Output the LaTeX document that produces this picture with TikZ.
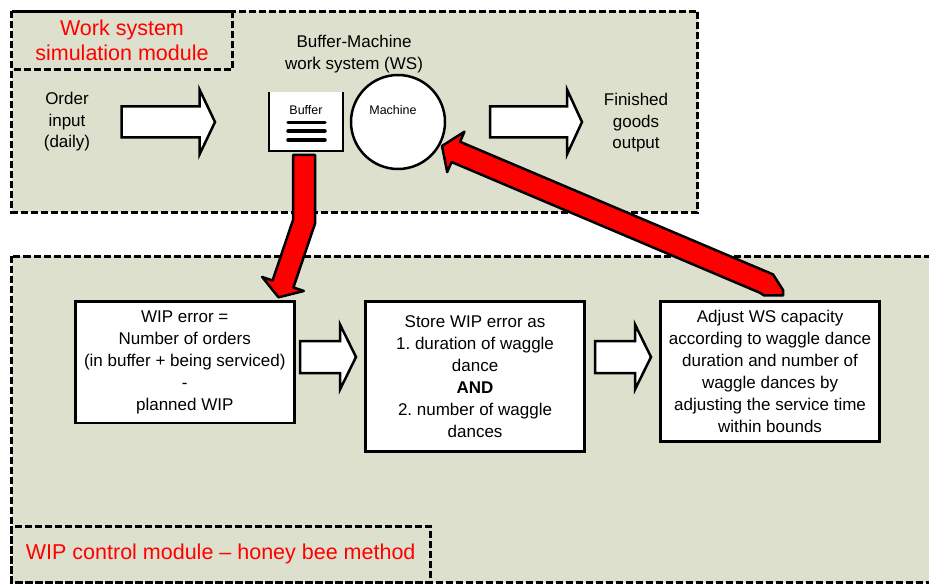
\documentclass[tikz,border=0pt]{standalone}
\usepackage{fontspec}
\setmainfont{Liberation Sans}
\frenchspacing
\definecolor{panel}{RGB}{221,224,204}
\tikzset{
 panelbox/.style={fill=panel, draw=black, line width=3pt, dash pattern=on 7pt off 3pt},
 titlebox/.style={draw=black, line width=3pt, dash pattern=on 7pt off 3pt},
 procbox/.style={draw=black, fill=white, line width=2.5pt, align=center, inner sep=0pt,
   font=\fontsize{17}{22}\selectfont, anchor=north west},
 txt/.style={align=center, font=\fontsize{17}{21.6}\selectfont, inner sep=0pt},
 smalltxt/.style={font=\fontsize{12.5}{14}\selectfont, inner sep=0pt},
 redtitle/.style={text=red, font=\fontsize{21.5}{25}\selectfont, align=center, inner sep=0pt},
 blockarrow/.style={draw=black, fill=white, line width=2.5pt, line join=miter},
 redarrow/.style={draw=black, fill=red, line width=2.5pt, line join=round},
}
\newcommand\blockarr[5]{%
 \draw[blockarrow] (#1,#4-#5) -- (#2,#4-#5) -- (#2,#4-32.5) -- (#3,#4) -- (#2,#4+32.5)
   -- (#2,#4+#5) -- (#1,#4+#5) -- cycle;}
\begin{document}
\begin{tikzpicture}[x=1pt,y=-1pt]
\useasboundingbox (0,0) rectangle (929,585);
\clip (0,0) rectangle (929,585);
% panels
\draw[panelbox] (11.5,11.5) rectangle (697.5,212.5);
\draw[panelbox] (11.5,256.5) rectangle (945,582.5);
\draw[titlebox] (11.5,11.5) rectangle (232.5,69.5);
\draw[titlebox] (11.5,526) rectangle (430,582.5);
% titles
\node[redtitle] (t1) at (122,40) {Work system\\simulation module};
\node[redtitle] (t2) at (220.7,554) {WIP control module – honey bee method};
% top texts
\node[txt] (ws) at (354,54) {Buffer-Machine\\work system (WS)};
\node[txt] (oin) at (67,122) {Order\\input\\(daily)};
\node[txt] (fout) at (636,123) {Finished\\goods\\output};
% buffer
\node[fill=white, minimum width=74pt, minimum height=59pt, inner sep=0pt] (buf) at (306,121.5) {};
\draw[line width=2.5pt] (buf.north west) -- (buf.south west) -- (buf.south east) -- (buf.north east);
\node[smalltxt] (buflbl) at (306,110) {Buffer};
\draw[line width=3.5pt, line cap=round] (288,122.3) -- (325,122.3);
\draw[line width=3.5pt, line cap=round] (288,131) -- (325,131);
\draw[line width=3.5pt, line cap=round] (288,140) -- (325,140);
% machine
\node[circle, draw, fill=white, line width=2.5pt, minimum size=94pt, inner sep=0pt] (mach) at (398,122) {};
\node[smalltxt] (machlbl) at (393,110) {Machine};
% process boxes
\node[procbox, minimum width=219pt, minimum height=121pt] (b1) at (74,300.5)
  {WIP error =\\Number of orders\\(in buffer + being serviced)\\-\\planned WIP};
\node[procbox, minimum width=219pt, minimum height=149.5pt] (b2) at (364.3,300.5)
  {Store WIP error as\\1. duration of waggle\\dance\\\textbf{AND}\\2. number of waggle\\dances};
\node[procbox, minimum width=219pt, minimum height=139.5pt] (b3) at (659.3,300.5)
  {Adjust WS capacity\\according to waggle dance\\duration and number of\\waggle dances by\\adjusting the service time\\within bounds};
% block arrows
\blockarr{121.5}{199.5}{215}{122}{15.5}
\blockarr{490}{567}{582}{122}{15.5}
\blockarr{300}{340}{356}{357}{16}
\blockarr{595}{635}{651}{357}{16}
% red arrows
\draw[redarrow] (293,155) -- (315,155) -- (315,223.6) -- (293.4,287.5) -- (303.8,291)
  -- (278.5,297.3) -- (262.2,277) -- (272.6,280.5) -- (293,220) -- cycle;
\draw[redarrow] (442,146) -- (464.4,131.7) -- (460.1,141.8) -- (773,274.4) -- (783,290)
  -- (783,295.5) -- (764,295.5) -- (760,292.8) -- (451.5,162) -- (447.2,172.1) -- cycle;
\end{tikzpicture}
\end{document}
